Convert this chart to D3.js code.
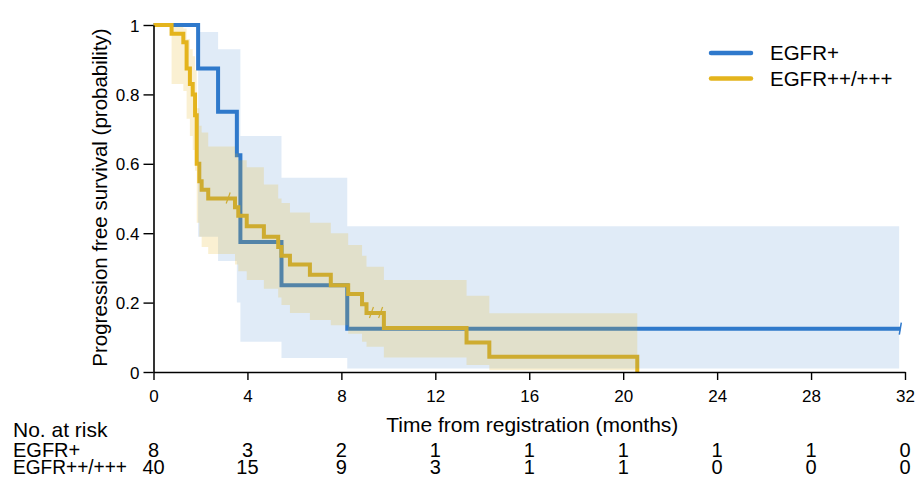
<!DOCTYPE html>
<html>
<head>
<meta charset="utf-8">
<script src="https://cdn.jsdelivr.net/npm/d3@7"></script>
<style>
  body { margin: 0; background: #fff; }
  svg text { font-family: "Liberation Sans", Arial, sans-serif; fill: #000; }
</style>
</head>
<body>
<div id="chart"></div>
<script>
// x ticks / y ticks
var xTicks = [0, 4, 8, 12, 16, 20, 24, 28, 32];
var yTicks = [0, 0.2, 0.4, 0.6, 0.8, 1];
var groups = ['EGFR+', 'EGFR++/+++'];

// EGFR+ : KM steps (time the step starts, survival after it)
var blueTimes = [0, 1.9, 2.75, 3.55, 3.7, 5.45, 8.25];
var blueSurv = [1, 0.875, 0.75, 0.625, 0.375, 0.25, 0.125];
var blueEnd = 31.8;
var blueCensor = [31.8];
// confidence band, intervals from blueTimes[1..]
var blueUpper = [0.98, 0.93, 0.93, 0.68, 0.56, 0.42];
var blueLower = [0.39, 0.32, 0.20, 0.087, 0.04, 0.01];
var blueBandEnd = 31.75;

// EGFR++/+++
var yellowTimes = [0, 0.77, 1.27, 1.41, 1.55, 1.67, 1.77, 1.84, 1.95, 2.05, 2.33, 3.47, 3.61, 3.97, 4.7,
  5.31, 5.45, 5.81, 6.66, 7.55, 8.29, 8.88, 9.07, 9.81, 13.33, 14.3, 20.6];
var yellowSurv = [1, 0.975, 0.95, 0.875, 0.83, 0.8, 0.74, 0.6, 0.55, 0.525, 0.5, 0.475, 0.45, 0.42, 0.39,
  0.36, 0.335, 0.31, 0.28, 0.25, 0.225, 0.195, 0.17, 0.127, 0.085, 0.044, 0];
var yellowUpper = [0.995, 0.99, 0.96, 0.93, 0.91, 0.87, 0.76, 0.71, 0.69, 0.65, 0.63, 0.61, 0.59, 0.54,
  0.5, 0.487, 0.46, 0.43, 0.4, 0.366, 0.335, 0.303, 0.265, 0.22, 0.169];
var yellowLower = [0.83, 0.81, 0.73, 0.68, 0.64, 0.58, 0.43, 0.39, 0.36, 0.34, 0.31, 0.29, 0.265, 0.24,
  0.215, 0.193, 0.17, 0.15, 0.135, 0.11, 0.087, 0.073, 0.042, 0.02, 0.005];
var yellowCensorT = [3.18, 9.28, 9.67];
var yellowCensorS = [0.5, 0.17, 0.17];

// number at risk
var riskPlus = [8, 3, 2, 1, 1, 1, 1, 1, 0];
var riskPlusPlus = [40, 15, 9, 3, 1, 1, 0, 0, 0];

var blue = '#2f79cc', yellow = '#e4b41c';
var width = 918, height = 478;

var svg = d3.select('#chart').append('svg')
  .attr('width', width)
  .attr('height', height);

var x = d3.scaleLinear().domain([0, 32]).range([153.5, 905]);
var y = d3.scaleLinear().domain([0, 1]).range([372, 25]);

function stepPoints(times, surv, end) {
  var pts = times.map(function (t, i) { return [t, surv[i]]; });
  if (end != null) pts.push([end, surv[surv.length - 1]]);
  return pts;
}
function bandPoints(times, lo, hi, end) {
  var pts = lo.map(function (l, i) { return [times[i + 1], l, hi[i]]; });
  pts.push([end, lo[lo.length - 1], hi[hi.length - 1]]);
  return pts;
}

var line = d3.line()
  .x(function (d) { return x(d[0]); })
  .y(function (d) { return y(d[1]); })
  .curve(d3.curveStepAfter);

var area = d3.area()
  .x(function (d) { return x(d[0]); })
  .y0(function (d) { return y(d[1]); })
  .y1(function (d) { return y(d[2]); })
  .curve(d3.curveStepAfter);

// lines first, bands drawn over them (transparent)
svg.append('path')
  .attr('d', line(stepPoints(blueTimes, blueSurv, blueEnd)))
  .attr('fill', 'none').attr('stroke', blue).attr('stroke-width', 4);

svg.append('path')
  .attr('d', line(stepPoints(yellowTimes, yellowSurv, null)))
  .attr('fill', 'none').attr('stroke', yellow).attr('stroke-width', 4);

// censor marks
svg.selectAll('.cb').data(blueCensor).enter().append('line')
  .attr('x1', function (d) { return x(d) - 1; }).attr('x2', function (d) { return x(d) + 1; })
  .attr('y1', y(0.125) + 6).attr('y2', y(0.125) - 6)
  .attr('stroke', blue).attr('stroke-width', 1.5);

svg.selectAll('.cy').data(yellowCensorT).enter().append('line')
  .attr('x1', function (d) { return x(d) - 2; }).attr('x2', function (d) { return x(d) + 2; })
  .attr('y1', function (d, i) { return y(yellowCensorS[i]) + 5; })
  .attr('y2', function (d, i) { return y(yellowCensorS[i]) - 6; })
  .attr('stroke', yellow).attr('stroke-width', 1.2);

svg.append('path')
  .attr('d', area(bandPoints(blueTimes, blueLower, blueUpper, blueBandEnd)))
  .attr('fill', blue).attr('fill-opacity', 0.15);

svg.append('path')
  .attr('d', area(bandPoints(yellowTimes, yellowLower, yellowUpper, yellowTimes[yellowTimes.length - 1])))
  .attr('fill', yellow).attr('fill-opacity', 0.2);

// axes
var xAxis = svg.append('g')
  .attr('transform', 'translate(0,' + y(0) + ')')
  .call(d3.axisBottom(x).tickValues(xTicks).tickSize(8).tickSizeOuter(0).tickPadding(6));
var yAxis = svg.append('g')
  .attr('transform', 'translate(' + x(0) + ',0)')
  .call(d3.axisLeft(y).tickValues(yTicks).tickSize(10).tickSizeOuter(0).tickPadding(4)
    .tickFormat(function (d) { return String(d); }));

[xAxis, yAxis].forEach(function (g) {
  g.attr('font-family', null).attr('font-size', null);
  g.select('.domain').attr('stroke', '#000').attr('stroke-width', 1.6);
  g.selectAll('.tick line').attr('stroke', '#000').attr('stroke-width', 1.4);
  g.selectAll('.tick text').style('font-size', '17px');
});
xAxis.selectAll('.tick text').attr('dy', null).attr('y', 30);
yAxis.selectAll('.tick text').attr('dy', '0.36em');

svg.append('text')
  .attr('transform', 'translate(107,' + ((y(0) + y(1)) / 2 - 1) + ') rotate(-90)')
  .attr('text-anchor', 'middle')
  .style('font-size', '20.5px')
  .text('Progression free survival (probability)');

svg.append('text')
  .attr('x', (x(0) + x(32)) / 2 + 3).attr('y', 432)
  .attr('text-anchor', 'middle')
  .style('font-size', '21px')
  .text('Time from registration (months)');

// legend
var legend = svg.append('g');
[blue, yellow].forEach(function (c, i) {
  var ly = 53 + i * 25.5;
  legend.append('line')
    .attr('x1', 711).attr('x2', 751).attr('y1', ly).attr('y2', ly)
    .attr('stroke', c).attr('stroke-width', 4.5).attr('stroke-linecap', 'round');
  legend.append('text')
    .attr('x', 770).attr('y', ly + 7)
    .style('font-size', '20.5px')
    .text(groups[i]);
});

// number at risk table
svg.append('text').attr('x', 13).attr('y', 437).style('font-size', '21px').text('No. at risk');
var rows = [riskPlus, riskPlusPlus];
rows.forEach(function (r, i) {
  var by = 457 + i * 17;
  var lab = svg.append('text').attr('x', 13).attr('y', by).style('font-size', '20px').text(groups[i]);
  if (i === 1) lab.attr('textLength', 114).attr('lengthAdjust', 'spacingAndGlyphs');
  svg.selectAll('.risk' + i).data(r).enter().append('text')
    .attr('x', function (d, j) { return x(xTicks[j]); })
    .attr('y', by)
    .attr('text-anchor', 'middle')
    .style('font-size', '20px')
    .text(function (d) { return d; });
});
</script>
</body>
</html>
